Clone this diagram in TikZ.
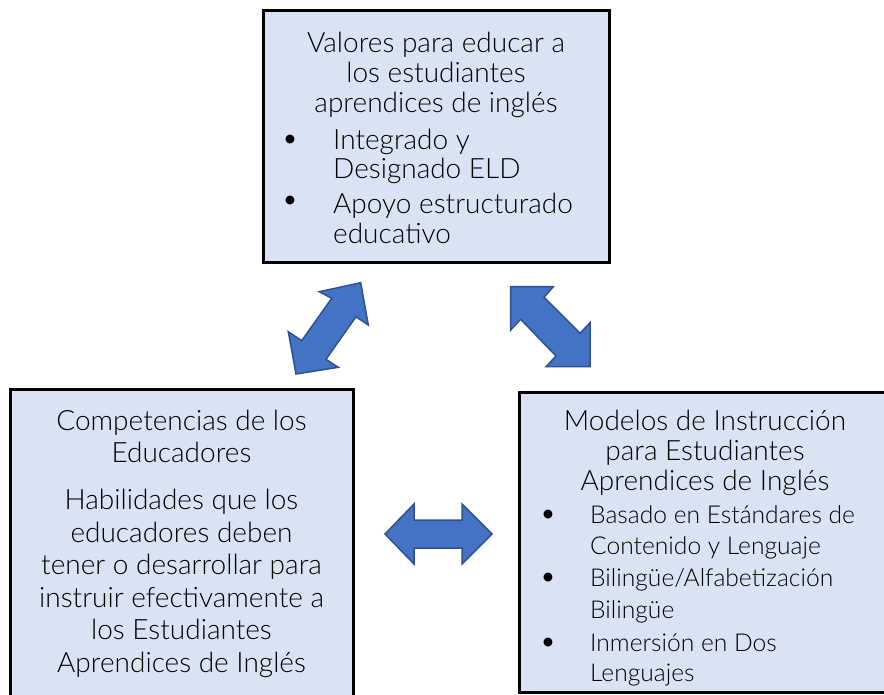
\documentclass[tikz,border=0pt]{standalone}
\usepackage{fontspec}
\IfFontExistsTF{Lato Light}{\setmainfont{Lato Light}}{\setmainfont{Lato}}
\definecolor{boxfill}{RGB}{218,227,243}
\definecolor{arrfill}{RGB}{68,114,196}
\definecolor{arrline}{RGB}{47,82,143}
\tikzset{
  box/.style={draw=black, line width=3pt, fill=boxfill, inner sep=0pt},
  txt/.style={inner sep=0pt, align=center, font=\fontsize{28}{#1}\selectfont},
  itemtxt/.style={inner sep=0pt, align=left, anchor=west, font=\fontsize{28}{#1}\selectfont},
  smallitem/.style={inner sep=0pt, align=left, anchor=west, font=\fontsize{24.6}{#1}\selectfont},
  bul/.style={inner sep=0pt, font=\fontsize{30}{30}\selectfont},
  blockarrow/.style={fill=arrfill, draw=arrline, line width=1.5pt, line join=miter}
}
\begin{document}
\begin{tikzpicture}[x=1pt,y=-1pt]
\useasboundingbox (0,0) rectangle (884,694);
\clip (0,0) rectangle (884,694);
\fill[white] (0,0) rectangle (884,694);

% boxes
\node[box, minimum width=346pt, minimum height=252pt] (top) at (436,136) {};
\node[box, minimum width=343pt, minimum height=314pt] (left) at (181.5,546) {};
\node[box, minimum width=381pt, minimum height=300pt] (right) at (709.5,542) {};

% top box text
\node[txt=30] (topT) at (436,75) {Valores para educar a\\los estudiantes\\aprendices de inglés};
\node[bul] (tb1) at (290,142) {\textbullet};
\node[itemtxt=29] (ti1) at (333,156) {Integrado y\\Designado ELD};
\node[bul] (tb2) at (290,203) {\textbullet};
\node[itemtxt=30] (ti2) at (333,218) {Apoyo estructurado\\educativo};

% left box text
\node[txt=32] (leftT) at (181.5,436) {Competencias de los\\Educadores};
\node[txt=32.6] (leftB) at (181.5,583.5) {Habilidades que los\\educadores deben\\tener o desarrollar para\\instruir efectivamente a\\los Estudiantes\\Aprendices de Inglés};

% right box text
\node[txt=30] (rightT) at (705,453) {Modelos de Instrucción\\para Estudiantes\\Aprendices de Inglés};
\node[bul] (rb1) at (548,517) {\textbullet};
\node[smallitem=31] (ri1) at (590,532.5) {Basado en Estándares de\\Contenido y Lenguaje};
\node[bul] (rb2) at (548,580) {\textbullet};
\node[smallitem=32] (ri2) at (590,596) {Bilingüe/Alfabetización\\Bilingüe};
\node[bul] (rb3) at (548,645) {\textbullet};
\node[smallitem=30] (ri3) at (590,660) {Inmersión en Dos\\Lenguajes};

% block arrows
\draw[blockarrow] (360.7,282.7) -- (368.3,325) -- (356,316.7) -- (326,359.3) -- (338.3,367.3)
  -- (296,374) -- (288.3,331.7) -- (301.7,340.7) -- (331.7,298.3) -- (319.3,291.7) -- cycle;
\draw[blockarrow] (510.7,286.7) -- (553.3,286.7) -- (544,297.3) -- (580,333.3) -- (590,322.7)
  -- (590,366.7) -- (546,366.7) -- (556,356) -- (520.7,319.3) -- (510.7,330) -- cycle;
\draw[blockarrow] (385,534) -- (414,504) -- (414,520) -- (462,520) -- (462,504) -- (492,534)
  -- (462,564) -- (462,548) -- (414,548) -- (414,564) -- cycle;
\end{tikzpicture}
\end{document}
